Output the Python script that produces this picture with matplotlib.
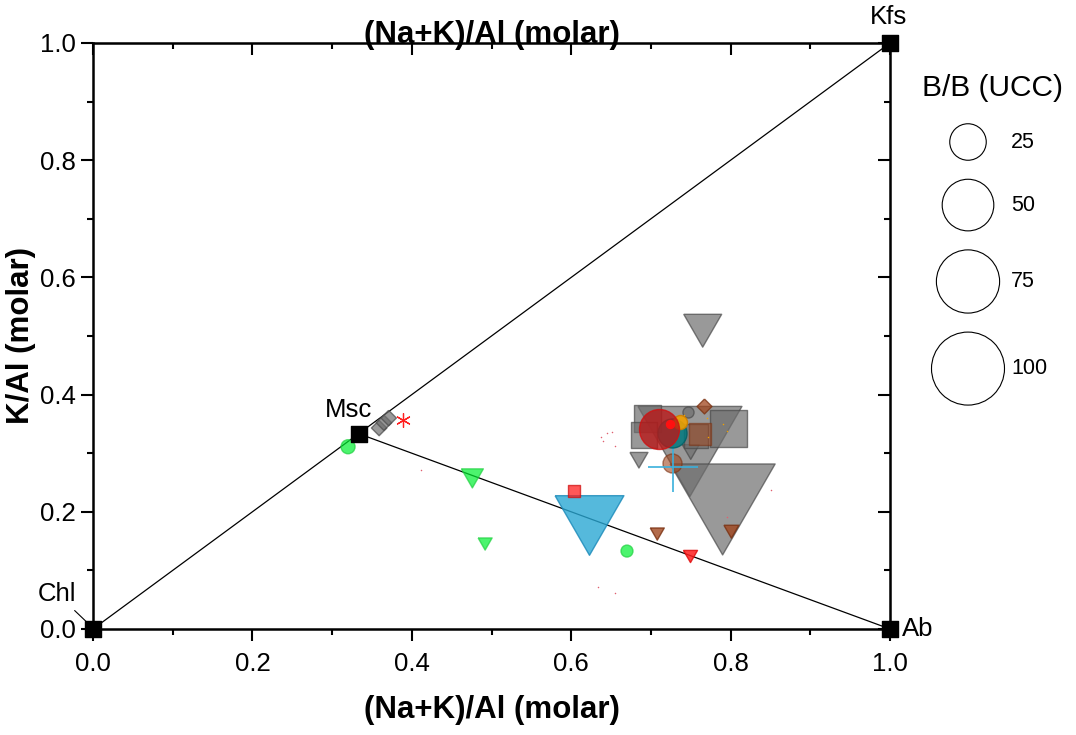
import numpy as np
import matplotlib
matplotlib.use('Agg')
import matplotlib.pyplot as plt

plt.rcParams['font.family'] = ['Liberation Sans', 'DejaVu Sans']

DPI = 100
PX_PER_UNIT = 7.3   # marker diameter in px per sqrt(B/B)

# end-members
em_names = ['Chl', 'Msc', 'Kfs', 'Ab']
em_x = [0.0, 1 / 3, 1.0, 1.0]
em_y = [0.0, 1 / 3, 1.0, 0.0]

# samples: (Na+K)/Al, K/Al, B/B(UCC)
gray_tri_x = [0.749, 0.790, 0.765, 0.685, 0.750]
gray_tri_y = [0.303, 0.204, 0.509, 0.288, 0.302]
gray_tri_b = [203, 207, 27, 6.1, 5.4]

gray_sq_x = [0.696, 0.691, 0.797, 0.757]
gray_sq_y = [0.359, 0.331, 0.342, 0.330]
gray_sq_b = [13.7, 12.7, 25.7, 11]

gray_dia_x = [0.359, 0.365, 0.371]
gray_dia_y = [0.343, 0.352, 0.360]
gray_dia_b = [4.5, 4.5, 4.5]

gray_circ_x = [0.747]
gray_circ_y = [0.371]
gray_circ_b = [2.3]

brown_dia_x = [0.767]
brown_dia_y = [0.381]
brown_dia_b = [4.2]

brown_sq_x = [0.762]
brown_sq_y = [0.333]
brown_sq_b = [9.0]

brown_circ_x = [0.727]
brown_circ_y = [0.284]
brown_circ_b = [6.8]

brown_tri_x = [0.708, 0.801]
brown_tri_y = [0.162, 0.166]
brown_tri_b = [3.7, 4.2]

blue_tri_x = [0.622]
blue_tri_y = [0.177]
blue_tri_b = [89]

blue_plus_x = [0.728]
blue_plus_y = [0.276]
blue_plus_b = [47]

green_circ_x = [0.320, 0.670]
green_circ_y = [0.311, 0.133]
green_circ_b = [3.7, 2.7]

green_tri_x = [0.476, 0.492]
green_tri_y = [0.257, 0.145]
green_tri_b = [9.1, 3.7]

teal_circ_x = [0.727]
teal_circ_y = [0.335]
teal_circ_b = [15.8]

orange_circ_x = [0.737]
orange_circ_y = [0.353]
orange_circ_b = [3.7]

orange_dot_x = [0.770, 0.790, 0.795, 0.772, 0.742]
orange_dot_y = [0.360, 0.350, 0.338, 0.327, 0.366]

red_circ_x = [0.710, 0.724]
red_circ_y = [0.341, 0.350]
red_circ_b = [30, 1.2]

red_sq_x = [0.604]
red_sq_y = [0.235]
red_sq_b = [2.3]

red_tri_x = [0.749]
red_tri_y = [0.125]
red_tri_b = [3.7]

red_star_x = [0.389]
red_star_y = [0.357]
red_star_b = [3.6]

pink_dot_x = [0.637, 0.640, 0.645, 0.651, 0.655, 0.412, 0.634, 0.655, 0.851, 0.796]
pink_dot_y = [0.328, 0.321, 0.334, 0.336, 0.312, 0.271, 0.072, 0.061, 0.237, 0.191]

legend_vals = [25, 50, 75, 100]

# equilateral markers (bbox-centred)
TRI_DOWN = [(-1, 0.866), (1, 0.866), (0, -0.866), (-1, 0.866)]
DIAMOND = [(0, 1), (1, 0), (0, -1), (-1, 0), (0, 1)]


def size_pts(b):
    """B/B value -> scatter size (points^2)"""
    d = PX_PER_UNIT * np.sqrt(np.asarray(b, dtype=float)) * 72 / DPI
    return d ** 2


fig = plt.figure(figsize=(10.76, 7.35), dpi=DPI)
ax = fig.add_axes([93 / 1076, 106 / 735, 797 / 1076, 586 / 735])

# triangle sides
ax.plot([em_x[0], em_x[2]], [em_y[0], em_y[2]], color='black', lw=0.9, zorder=2)
ax.plot([em_x[1], em_x[3]], [em_y[1], em_y[3]], color='black', lw=0.9, zorder=2)


def sc(x, y, b, marker, fc, ec, alpha=0.8, lw=1.0, z=3):
    ax.scatter(x, y, s=size_pts(b), marker=marker, facecolor=fc, edgecolor=ec,
               alpha=alpha, linewidths=lw, zorder=z, clip_on=False)


sc(gray_tri_x, gray_tri_y, gray_tri_b, TRI_DOWN, '#6e6e6e', '#4a4a4a', 0.7)
sc(gray_sq_x, gray_sq_y, gray_sq_b, 's', '#6e6e6e', '#4a4a4a', 0.7)
sc(gray_circ_x, gray_circ_y, gray_circ_b, 'o', '#6e6e6e', '#4a4a4a', 0.7)
sc(gray_dia_x, gray_dia_y, gray_dia_b, DIAMOND, '#6e6e6e', '#4a4a4a', 0.7)
sc(blue_tri_x, blue_tri_y, blue_tri_b, TRI_DOWN, '#2aa8d4', '#1888b8', 0.8)
ax.scatter(blue_plus_x, blue_plus_y, s=size_pts(blue_plus_b), marker='+',
           color='#3ab0dc', linewidths=1.2, zorder=4)
sc(brown_dia_x, brown_dia_y, brown_dia_b, DIAMOND, '#a0461e', '#7a3010', 0.75)
sc(brown_sq_x, brown_sq_y, brown_sq_b, 's', '#a0461e', '#7a3010', 0.55)
sc(brown_circ_x, brown_circ_y, brown_circ_b, 'o', '#a0461e', '#7a3010', 0.6)
sc(brown_tri_x, brown_tri_y, brown_tri_b, TRI_DOWN, '#a0461e', '#7a3010', 0.8)
sc(green_circ_x, green_circ_y, green_circ_b, 'o', '#00f030', '#20d040', 0.7)
sc(green_tri_x, green_tri_y, green_tri_b, TRI_DOWN, '#00f030', '#20d040', 0.7)
sc(teal_circ_x, teal_circ_y, teal_circ_b, 'o', '#00787e', '#006066', 0.85, z=4)
sc(orange_circ_x, orange_circ_y, orange_circ_b, 'o', '#f0a000', '#d08000', 0.9, z=4)
ax.scatter(orange_dot_x, orange_dot_y, s=1.2, color='#f0a000', zorder=4, lw=0)
sc(red_circ_x[:1], red_circ_y[:1], red_circ_b[:1], 'o', '#b81818', '#d01010', 0.8, z=5)
sc(red_circ_x[1:], red_circ_y[1:], red_circ_b[1:], 'o', '#ff1010', '#ff1010', 1.0, z=5)
sc(red_sq_x, red_sq_y, red_sq_b, 's', '#ff2020', '#d01010', 0.75)
sc(red_tri_x, red_tri_y, red_tri_b, TRI_DOWN, '#ff2020', '#e01010', 0.85)
ax.scatter(red_star_x, red_star_y, s=size_pts(red_star_b), marker=(6, 2, 0),
           color='#ff2020', linewidths=0.9, zorder=4)
ax.scatter(pink_dot_x, pink_dot_y, s=1.2, color='#e06070', zorder=4, lw=0)

# end-member squares and labels
ax.scatter(em_x, em_y, s=130, marker='s', color='black', zorder=6, clip_on=False)
ax.annotate('Chl', xy=(-0.008, 0.012), xytext=(-0.045, 0.060), fontsize=18.5,
            ha='center', va='center', annotation_clip=False,
            arrowprops=dict(arrowstyle='-', lw=0.8, color='black', shrinkA=2, shrinkB=0))
ax.text(0.320, 0.374, 'Msc', fontsize=18.5, ha='center', va='center')
ax.text(0.9975, 1.044, 'Kfs', fontsize=18.5, ha='center', va='center', clip_on=False)
ax.text(1.015, 0.0, 'Ab', fontsize=18.5, ha='left', va='center', clip_on=False)

ax.set_xlim(0, 1)
ax.set_ylim(0, 1)
ticks = np.arange(0, 1.01, 0.2)
ax.set_xticks(ticks)
ax.set_yticks(ticks)
ax.set_xticks(np.arange(0.1, 1.0, 0.2), minor=True)
ax.set_yticks(np.arange(0.1, 1.0, 0.2), minor=True)
ax.set_xticklabels(['%.1f' % t for t in ticks])
ax.set_yticklabels(['%.1f' % t for t in ticks])
ax.tick_params(which='major', length=8.5, width=1.5, labelsize=18.5)
ax.tick_params(axis='x', which='major', pad=8)
ax.tick_params(axis='y', which='major', pad=4)
ax.tick_params(which='minor', length=4, width=1.5)
for sp in ax.spines.values():
    sp.set_linewidth(1.8)

ax.set_xlabel('(Na+K)/Al (molar)', fontsize=22.5, fontweight='bold', labelpad=14)
ax.set_ylabel('K/Al (molar)', fontsize=22.5, fontweight='bold', labelpad=3)

top = ax.secondary_xaxis('top')
top.set_xticks(ticks)
top.set_xticks(np.arange(0.1, 1.0, 0.2), minor=True)
top.tick_params(which='both', direction='in', labeltop=False, width=1.5)
top.tick_params(which='major', length=8.5)
top.tick_params(which='minor', length=4)
top.set_xlabel('(Na+K)/Al (molar)', fontsize=22.5, fontweight='bold', labelpad=0)

right = ax.secondary_yaxis('right')
right.set_yticks(ticks)
right.set_yticks(np.arange(0.1, 1.0, 0.2), minor=True)
right.tick_params(which='both', direction='in', labelright=False, width=1.5)
right.tick_params(which='major', length=8.5)
right.tick_params(which='minor', length=4)

# bubble-size legend, drawn in a pixel-coordinate overlay
lax = fig.add_axes([0, 0, 1, 1], zorder=-1)
lax.set_xlim(0, 1076)
lax.set_ylim(735, 0)
lax.axis('off')
diam = PX_PER_UNIT * np.sqrt(legend_vals)
gap = 19
ys = [142]
for i in range(1, len(diam)):
    ys.append(ys[-1] + (diam[i - 1] + diam[i]) / 2 + gap)
lax.scatter([968] * len(ys), ys, s=size_pts(legend_vals), facecolor='none',
            edgecolor='black', linewidths=0.8)
for yv, v in zip(ys, legend_vals):
    lax.text(1011, yv, str(v), fontsize=15.5, ha='left', va='center')
lax.text(993, 88, 'B/B (UCC)', fontsize=21.5, ha='center', va='center')

fig.savefig('out.png', dpi=DPI)
